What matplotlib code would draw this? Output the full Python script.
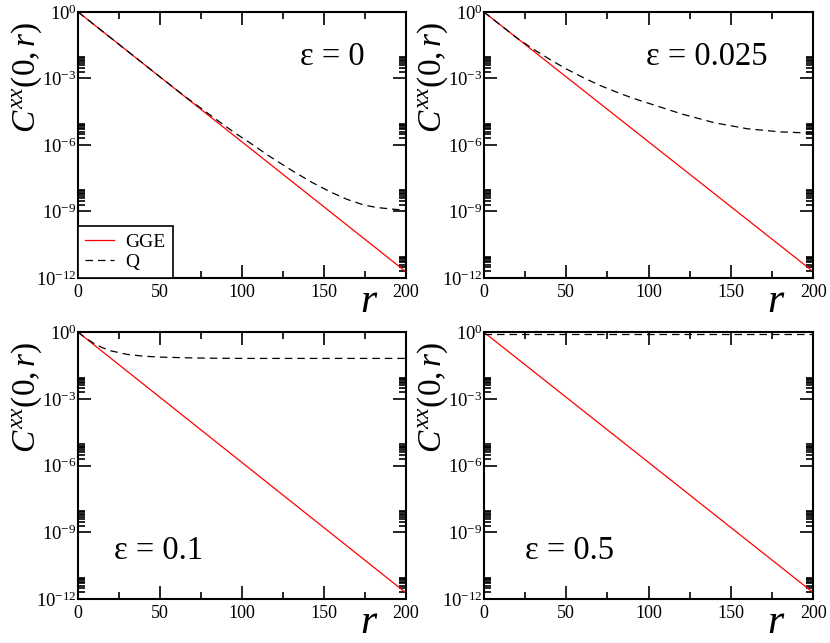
import numpy as np
import matplotlib
matplotlib.use("Agg")
import matplotlib.pyplot as plt
from matplotlib.ticker import FixedLocator, NullFormatter

plt.rcParams['font.family'] = ['Liberation Serif', 'DejaVu Serif']
plt.rcParams['mathtext.fontset'] = 'custom'
plt.rcParams['mathtext.rm'] = 'Liberation Serif'
plt.rcParams['mathtext.it'] = 'Liberation Serif:italic'

# GGE curve (same for all panels): log10 values
r_gge = [0, 50, 100, 150, 200]
log_gge = [0.0, -2.93, -5.86, -8.79, -11.72]

# Q curves, log10 values
r_q0 = [0, 25, 50, 65, 83, 95, 105, 117, 130, 142, 154, 164, 174, 182, 190, 200]
log_q0 = [0.0, -1.46, -2.93, -3.8, -4.78, -5.42, -5.91, -6.52, -7.13, -7.66, -8.12,
          -8.45, -8.7, -8.82, -8.88, -8.95]

r_q1 = [0, 10, 20, 30, 40, 50, 60, 70, 80, 90, 100, 120, 140, 160, 180, 200]
log_q1 = [0.0, -0.59, -1.17, -1.68, -2.14, -2.57, -2.95, -3.3, -3.6, -3.88, -4.12,
          -4.6, -5.0, -5.27, -5.41, -5.47]

r_q2 = [0, 5, 10, 15, 20, 30, 40, 50, 65, 80, 100, 150, 200]
log_q2 = [0.0, -0.28, -0.52, -0.7, -0.84, -1.0, -1.08, -1.12, -1.15, -1.17, -1.18, -1.18, -1.18]

r_q3 = [0, 50, 100, 150, 200]
log_q3 = [-0.1, -0.1, -0.1, -0.1, -0.1]

eps_labels = [r"ε = 0", r"ε = 0.025", r"ε = 0.1", r"ε = 0.5"]
label_pos = [(0.775, 0.83), (0.675, 0.83), (0.245, 0.18), (0.26, 0.18)]
q_data = [(r_q0, log_q0), (r_q1, log_q1), (r_q2, log_q2), (r_q3, log_q3)]

yticks = [1e0, 1e-3, 1e-6, 1e-9, 1e-12]
ytick_labels = [r"10$^{0}$", r"10$^{-3}$", r"10$^{-6}$", r"10$^{-9}$", r"10$^{-12}$"]
yminor = [k * 10.0**e for e in (-12, -9, -6, -3) for k in range(2, 10)]

fig = plt.figure(figsize=(8.3, 6.43), dpi=100)
pos = [(0.094, 0.5677, 0.395, 0.4137), (0.583, 0.5677, 0.397, 0.4137),
       (0.094, 0.0684, 0.395, 0.4150), (0.583, 0.0684, 0.397, 0.4150)]

for i in range(4):
    ax = fig.add_axes(pos[i])
    rq, lq = q_data[i]
    ax.plot(r_gge, 10.0**np.array(log_gge), color='red', lw=0.9, label='GGE')
    ax.plot(rq, 10.0**np.array(lq), color='black', lw=0.9, dashes=(6, 4), label='Q')
    ax.set_yscale('log')
    ax.set_xlim(0, 200)
    ax.set_ylim(1e-12, 1e0)
    ax.set_xticks([0, 50, 100, 150, 200])
    ax.set_xticks([25, 75, 125, 175], minor=True)
    ax.yaxis.set_major_locator(FixedLocator(yticks))
    ax.set_yticklabels(ytick_labels)
    ax.yaxis.set_minor_locator(FixedLocator(yminor))
    ax.yaxis.set_minor_formatter(NullFormatter())
    ax.tick_params(which='both', direction='in', top=True, right=True, width=1.2)
    ax.tick_params(which='major', length=9.5)
    ax.tick_params(which='minor', length=5)
    ax.tick_params(axis='x', labelsize=13, pad=4)
    ax.tick_params(axis='y', labelsize=13.5, pad=1)
    for s in ax.spines.values():
        s.set_linewidth(1.5)
    ax.text(-0.155, 0.755, r"$C^{xx}(0,r)$", transform=ax.transAxes, rotation=90,
            ha='center', va='center', fontsize=24)
    ax.text(0.885, -0.128, "r", transform=ax.transAxes, ha='center',
            va='baseline', fontsize=30, fontstyle='italic')
    ax.text(label_pos[i][0], label_pos[i][1], eps_labels[i], transform=ax.transAxes,
            ha='center', va='center', fontsize=23.5)
    if i == 0:
        leg = ax.legend(loc='lower left', fontsize=14, frameon=True, fancybox=False,
                        edgecolor='black', framealpha=1, borderaxespad=0,
                        handlelength=1.5, handletextpad=0.6, labelspacing=0.15,
                        borderpad=0.35)
        leg.get_frame().set_linewidth(1.2)

plt.savefig('out.png', dpi=100)
